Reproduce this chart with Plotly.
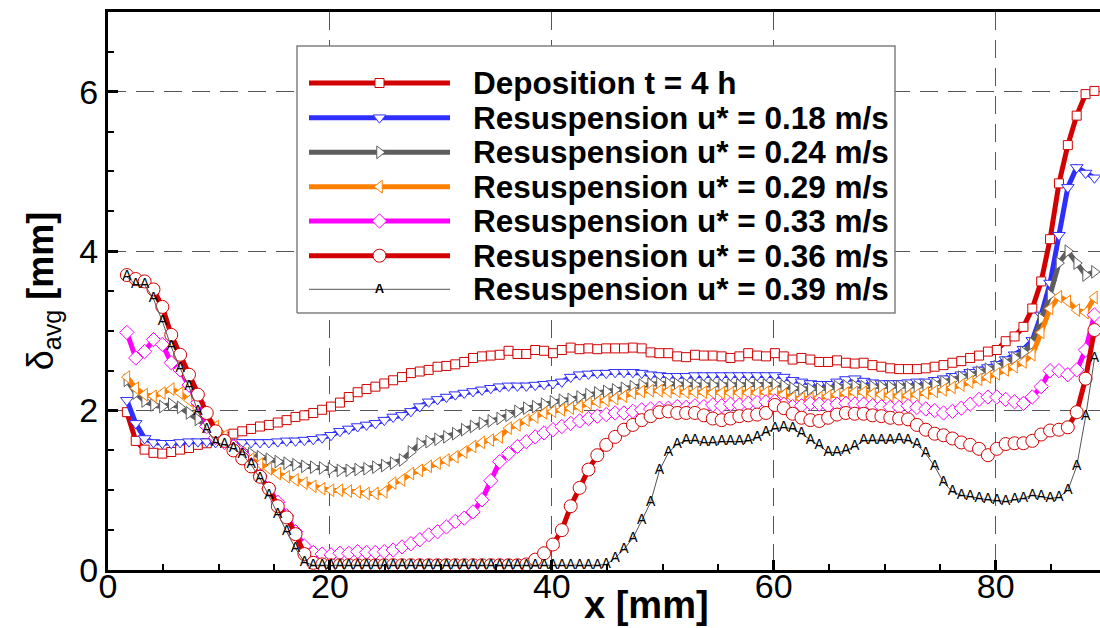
import plotly.graph_objects as go

# ---------------- data ----------------
x_mm = [1.7, 2.5, 3.3, 4.1, 4.9, 5.7, 6.5, 7.3, 8.1, 8.9,
        9.7, 10.5, 11.3, 12.1, 12.9, 13.7, 14.5, 15.3, 16.1, 16.9,
        17.7, 18.5, 19.3, 20.1, 20.9, 21.7, 22.5, 23.3, 24.1, 24.9,
        25.7, 26.5, 27.3, 28.1, 28.9, 29.7, 30.5, 31.3, 32.1, 32.9,
        33.7, 34.5, 35.3, 36.1, 36.9, 37.7, 38.5, 39.3, 40.1, 40.9,
        41.7, 42.5, 43.3, 44.1, 44.9, 45.7, 46.5, 47.3, 48.1, 48.9,
        49.7, 50.5, 51.3, 52.1, 52.9, 53.7, 54.5, 55.3, 56.1, 56.9,
        57.7, 58.5, 59.3, 60.1, 60.9, 61.7, 62.5, 63.3, 64.1, 64.9,
        65.7, 66.5, 67.3, 68.1, 68.9, 69.7, 70.5, 71.3, 72.1, 72.9,
        73.7, 74.5, 75.3, 76.1, 76.9, 77.7, 78.5, 79.3, 80.1, 80.9,
        81.7, 82.5, 83.3, 84.1, 84.9, 85.7, 86.5, 87.3, 88.1, 88.9]

deposition_4h = [1.98, 1.62, 1.51, 1.47, 1.46, 1.48, 1.51, 1.53, 1.57, 1.59,
                 1.63, 1.67, 1.71, 1.74, 1.77, 1.80, 1.82, 1.85, 1.88, 1.92,
                 1.94, 1.97, 2.01, 2.05, 2.10, 2.17, 2.23, 2.27, 2.30, 2.34,
                 2.38, 2.42, 2.47, 2.49, 2.51, 2.55, 2.56, 2.58, 2.61, 2.66,
                 2.68, 2.69, 2.70, 2.75, 2.71, 2.71, 2.76, 2.75, 2.72, 2.76,
                 2.79, 2.77, 2.78, 2.77, 2.78, 2.78, 2.78, 2.79, 2.78, 2.73,
                 2.72, 2.72, 2.68, 2.67, 2.70, 2.69, 2.69, 2.68, 2.66, 2.68,
                 2.72, 2.69, 2.68, 2.72, 2.68, 2.64, 2.66, 2.64, 2.61, 2.61,
                 2.63, 2.60, 2.59, 2.60, 2.57, 2.55, 2.53, 2.52, 2.52, 2.52,
                 2.53, 2.55, 2.57, 2.60, 2.62, 2.66, 2.69, 2.74, 2.76, 2.87,
                 2.93, 3.05, 3.28, 3.62, 4.15, 4.85, 5.33, 5.70, 5.97, 6.01]

resusp_018 = [2.13, 1.84, 1.65, 1.60, 1.59, 1.59, 1.60, 1.61, 1.61, 1.61,
              1.60, 1.60, 1.60, 1.60, 1.60, 1.60, 1.60, 1.61, 1.62, 1.62,
              1.63, 1.64, 1.66, 1.69, 1.74, 1.77, 1.80, 1.82, 1.84, 1.88,
              1.92, 1.94, 1.99, 2.05, 2.11, 2.14, 2.17, 2.20, 2.22, 2.24,
              2.26, 2.28, 2.30, 2.31, 2.31, 2.31, 2.32, 2.33, 2.34, 2.36,
              2.42, 2.45, 2.46, 2.47, 2.47, 2.48, 2.48, 2.48, 2.47, 2.45,
              2.44, 2.43, 2.43, 2.43, 2.44, 2.44, 2.44, 2.44, 2.44, 2.44,
              2.44, 2.44, 2.44, 2.44, 2.42, 2.38, 2.36, 2.34, 2.33, 2.33,
              2.36, 2.39, 2.40, 2.37, 2.35, 2.34, 2.34, 2.34, 2.35, 2.36,
              2.36, 2.38, 2.40, 2.43, 2.45, 2.48, 2.51, 2.54, 2.58, 2.64,
              2.70, 2.77, 2.88, 3.20, 3.60, 4.20, 4.80, 5.05, 4.98, 4.92]

resusp_024 = [2.38, 2.22, 2.12, 2.07, 2.05, 2.08, 2.04, 1.97, 1.89, 1.80,
              1.72, 1.64, 1.57, 1.50, 1.46, 1.42, 1.39, 1.36, 1.34, 1.32,
              1.30, 1.29, 1.28, 1.27, 1.25, 1.25, 1.26, 1.27, 1.29, 1.31,
              1.34, 1.38, 1.48, 1.58, 1.61, 1.64, 1.67, 1.71, 1.76, 1.80,
              1.84, 1.87, 1.90, 1.94, 1.99, 2.03, 2.05, 2.08, 2.11, 2.13,
              2.14, 2.17, 2.20, 2.22, 2.24, 2.26, 2.28, 2.30, 2.32, 2.33,
              2.34, 2.34, 2.33, 2.33, 2.32, 2.32, 2.32, 2.32, 2.32, 2.32,
              2.32, 2.32, 2.32, 2.33, 2.31, 2.28, 2.27, 2.27, 2.27, 2.28,
              2.30, 2.31, 2.31, 2.30, 2.30, 2.30, 2.30, 2.30, 2.30, 2.30,
              2.31, 2.33, 2.36, 2.38, 2.42, 2.45, 2.48, 2.52, 2.55, 2.60,
              2.66, 2.73, 2.84, 3.15, 3.45, 3.85, 4.00, 3.85, 3.70, 3.74]

resusp_029 = [2.42, 2.28, 2.20, 2.18, 2.22, 2.27, 2.22, 2.13, 2.03, 1.92,
              1.80, 1.68, 1.56, 1.46, 1.39, 1.33, 1.27, 1.21, 1.17, 1.13,
              1.09, 1.05, 1.02, 1.00, 1.00, 0.99, 0.98, 0.96, 0.96, 0.98,
              1.09, 1.13, 1.21, 1.25, 1.30, 1.34, 1.38, 1.42, 1.48, 1.55,
              1.60, 1.63, 1.67, 1.78, 1.82, 1.88, 1.92, 1.97, 1.99, 2.01,
              2.03, 2.05, 2.09, 2.11, 2.13, 2.15, 2.18, 2.22, 2.24, 2.25,
              2.25, 2.24, 2.24, 2.23, 2.23, 2.23, 2.22, 2.22, 2.22, 2.22,
              2.22, 2.22, 2.23, 2.23, 2.20, 2.16, 2.15, 2.15, 2.16, 2.18,
              2.20, 2.22, 2.23, 2.23, 2.21, 2.20, 2.19, 2.18, 2.19, 2.20,
              2.22, 2.24, 2.26, 2.29, 2.32, 2.36, 2.39, 2.42, 2.46, 2.51,
              2.55, 2.61, 2.70, 2.98, 3.28, 3.43, 3.37, 3.26, 3.23, 3.42]

resusp_033 = [2.98, 2.66, 2.74, 2.89, 2.83, 2.60, 2.51, 2.32, 2.10, 1.80,
              1.66, 1.60, 1.55, 1.45, 1.32, 1.18, 1.02, 0.85, 0.68, 0.48,
              0.30, 0.22, 0.20, 0.19, 0.21, 0.21, 0.23, 0.22, 0.22, 0.23,
              0.25, 0.29, 0.33, 0.38, 0.44, 0.48, 0.54, 0.61, 0.65, 0.73,
              0.88, 1.12, 1.36, 1.46, 1.55, 1.61, 1.67, 1.72, 1.76, 1.80,
              1.84, 1.87, 1.90, 1.93, 1.95, 1.97, 1.97, 1.99, 2.01, 2.02,
              2.03, 2.03, 2.05, 2.04, 2.06, 2.05, 2.07, 2.06, 2.08, 2.07,
              2.09, 2.10, 2.11, 2.12, 2.08, 2.05, 2.06, 2.09, 2.08, 2.06,
              2.08, 2.09, 2.08, 2.08, 2.06, 2.05, 2.04, 2.04, 2.06, 2.04,
              2.02, 2.00, 1.97, 1.99, 2.03, 2.08, 2.14, 2.17, 2.17, 2.14,
              2.11, 2.09, 2.17, 2.30, 2.50, 2.50, 2.45, 2.51, 2.76, 3.20]

resusp_036 = [3.70, 3.65, 3.62, 3.52, 3.30, 2.95, 2.70, 2.45, 2.20, 1.97,
              1.74, 1.62, 1.50, 1.40, 1.30, 1.17, 1.02, 0.80, 0.66, 0.45,
              0.20, 0.09, 0.07, 0.06, 0.06, 0.06, 0.06, 0.06, 0.06, 0.06,
              0.06, 0.06, 0.06, 0.06, 0.06, 0.06, 0.06, 0.06, 0.06, 0.06,
              0.06, 0.06, 0.06, 0.06, 0.06, 0.07, 0.13, 0.21, 0.32, 0.50,
              0.80, 1.03, 1.26, 1.44, 1.57, 1.67, 1.76, 1.82, 1.88, 1.93,
              1.98, 1.99, 1.97, 1.97, 1.97, 1.94, 1.90, 1.88, 1.90, 1.93,
              1.94, 1.95, 1.97, 2.07, 2.03, 1.96, 1.91, 1.88, 1.87, 1.91,
              1.95, 1.97, 1.96, 1.96, 1.94, 1.93, 1.91, 1.90, 1.89, 1.82,
              1.76, 1.71, 1.69, 1.65, 1.60, 1.57, 1.52, 1.44, 1.52, 1.58,
              1.59, 1.59, 1.62, 1.70, 1.75, 1.76, 1.79, 1.98, 2.40, 3.01]

resusp_039 = [3.68, 3.58, 3.58, 3.40, 3.12, 2.80, 2.53, 2.30, 1.99, 1.76,
              1.60, 1.57, 1.52, 1.45, 1.32, 1.15, 0.93, 0.70, 0.48, 0.27,
              0.10, 0.06, 0.06, 0.06, 0.06, 0.06, 0.06, 0.06, 0.06, 0.06,
              0.06, 0.06, 0.06, 0.06, 0.06, 0.06, 0.06, 0.06, 0.06, 0.06,
              0.06, 0.06, 0.06, 0.06, 0.06, 0.06, 0.06, 0.06, 0.06, 0.06,
              0.06, 0.06, 0.06, 0.06, 0.07, 0.15, 0.26, 0.40, 0.62, 0.85,
              1.25, 1.47, 1.58, 1.62, 1.63, 1.60, 1.60, 1.61, 1.61, 1.61,
              1.62, 1.66, 1.73, 1.77, 1.79, 1.77, 1.71, 1.63, 1.56, 1.48,
              1.47, 1.50, 1.55, 1.62, 1.63, 1.63, 1.63, 1.64, 1.63, 1.57,
              1.46, 1.30, 1.10, 0.98, 0.94, 0.92, 0.90, 0.88, 0.87, 0.86,
              0.88, 0.90, 0.94, 0.92, 0.90, 0.91, 1.00, 1.30, 1.92, 2.65]

series_names = ["Deposition t = 4 h",
                "Resuspension u* = 0.18 m/s",
                "Resuspension u* = 0.24 m/s",
                "Resuspension u* = 0.29 m/s",
                "Resuspension u* = 0.33 m/s",
                "Resuspension u* = 0.36 m/s",
                "Resuspension u* = 0.39 m/s"]

x_ticks = [0, 20, 40, 60, 80]
y_ticks = [0, 2, 4, 6]

# ---------------- styles ----------------
RED = "#D20000"
styles = [
    (RED, "square", 9),
    ("#2E2EFF", "triangle-down", 11),
    ("#5E5E5E", "triangle-right", 11),
    ("#FF8000", "triangle-left", 11),
    ("#FF00FF", "diamond", 11),
    (RED, "circle", 13),
]
FONT = "Liberation Sans, Arial, sans-serif"

W, H = 1100, 628
ML, MR, MT, MB = 108, 0, 12, 58
PW, PH = W - ML - MR, H - MT - MB


def fx(px):
    return (px - ML) / PW


def fy(py):
    return (H - MB - py) / PH


fig = go.Figure()

data_series = [deposition_4h, resusp_018, resusp_024, resusp_029,
               resusp_033, resusp_036]
for vals, (col, sym, sz) in zip(data_series, styles):
    fig.add_trace(go.Scatter(
        x=x_mm, y=vals, mode="lines+markers",
        line=dict(color=col, width=5),
        marker=dict(symbol=sym, size=sz, color="white",
                    line=dict(color=col, width=1)),
        showlegend=False, hoverinfo="skip"))

fig.add_trace(go.Scatter(
    x=x_mm, y=resusp_039, mode="lines+text",
    text=["A"] * len(x_mm), textposition="middle center",
    textfont=dict(family=FONT, size=14, color="black"),
    line=dict(color="#555555", width=1),
    showlegend=False, hoverinfo="skip"))

# ---------------- custom legend (overlay axes in plot-fraction units) ----------------
bx0, bx1, by0, by1 = fx(297), fx(895), fy(313), fy(46)
fig.add_trace(go.Scatter(
    x=[bx0, bx1, bx1, bx0, bx0], y=[by0, by0, by1, by1, by0],
    xaxis="x2", yaxis="y2", mode="lines", fill="toself",
    fillcolor="white", line=dict(color="#808080", width=1.5),
    showlegend=False, hoverinfo="skip"))

rows_py = [83, 117.7, 152.3, 186.7, 221, 255.7, 289.3]
lx0, lx1, lxm = fx(309), fx(450), fx(379.5)
for i, py in enumerate(rows_py):
    yy = fy(py)
    if i < 6:
        col, sym, sz = styles[i]
        fig.add_trace(go.Scatter(
            x=[lx0, lx1], y=[yy, yy], xaxis="x2", yaxis="y2", mode="lines",
            line=dict(color=col, width=5), showlegend=False, hoverinfo="skip"))
        fig.add_trace(go.Scatter(
            x=[lxm], y=[yy], xaxis="x2", yaxis="y2", mode="markers",
            marker=dict(symbol=sym, size=sz, color="white",
                        line=dict(color=col, width=1)),
            showlegend=False, hoverinfo="skip"))
    else:
        fig.add_trace(go.Scatter(
            x=[lx0, lx1], y=[yy, yy], xaxis="x2", yaxis="y2", mode="lines",
            line=dict(color="#555555", width=1), showlegend=False, hoverinfo="skip"))
        fig.add_trace(go.Scatter(
            x=[lxm], y=[yy], xaxis="x2", yaxis="y2", mode="text", text=["A"],
            textposition="middle center",
            textfont=dict(family=FONT, size=13, color="black", weight="bold"),
            showlegend=False, hoverinfo="skip"))
    fig.add_annotation(
        x=fx(471), y=yy, xref="paper", yref="paper", xanchor="left",
        yanchor="middle", text=series_names[i], showarrow=False,
        font=dict(family=FONT, size=31.5, color="black", weight="bold"))

# x axis title placed as in the reference (centred on the uncropped frame)
fig.add_annotation(
    x=fx(646), y=fy(605), xref="paper", yref="paper", xanchor="center",
    yanchor="middle", text="<b>x [mm]</b>", showarrow=False,
    font=dict(family=FONT, size=38, color="black"))

axis_common = dict(
    ticks="inside", ticklen=10, tickwidth=3, tickcolor="black",
    showline=True, linewidth=3, linecolor="black",
    showgrid=True, gridcolor="#555555", gridwidth=1, griddash="18px,10px",
    zeroline=False, tickfont=dict(family=FONT, size=34, color="black"),
)

fig.update_layout(
    width=W, height=H,
    margin=dict(l=ML, r=MR, t=MT, b=MB),
    paper_bgcolor="white", plot_bgcolor="white",
    showlegend=False,
    xaxis=dict(range=[0, 89.4], tickvals=x_ticks, mirror=True,
               ticklabelstandoff=-16,
               minor=dict(dtick=5, ticks="inside", ticklen=6, tickwidth=1.5,
                          tickcolor="black", showgrid=False),
               **axis_common),
    yaxis=dict(range=[0, 7], tickvals=y_ticks, mirror=False,
               minor=dict(dtick=0.5, ticks="inside", ticklen=6, tickwidth=1.5,
                          tickcolor="black", showgrid=False),
               title=dict(text="δ<sub>avg</sub> <b>[mm]</b>",
                          font=dict(family=FONT, size=36, color="black"),
                          standoff=15),
               **axis_common),
    xaxis2=dict(overlaying="x", range=[0, 1], visible=False, fixedrange=True),
    yaxis2=dict(overlaying="y", range=[0, 1], visible=False, fixedrange=True),
)

fig.write_html("out.html")
